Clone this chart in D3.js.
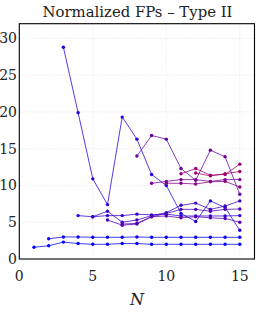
<!DOCTYPE html>
<html><head><meta charset="utf-8">
<script src="https://cdn.jsdelivr.net/npm/d3@7"></script>
<style>html,body{margin:0;padding:0;background:#fff;}svg{display:block;}</style>
</head><body>
<script>
const title = "Normalized FPs – Type II";
const xLabel = "N";
const xTicks = [0, 5, 10, 15];
const yTicks = [0, 5, 10, 15, 20, 25, 30];
// each series starts at N = its start value, one value per N up to 15
const starts = [1, 2, 3, 4, 5, 6, 7, 8, 9, 10, 11, 12];
const s1 = [1.6, 1.8, 2.3, 2.1, 2.0, 2.0, 2.1, 2.1, 2.0, 2.0, 2.0, 2.0, 2.0, 2.0, 2.0];
const s2 = [2.75, 3.0, 3.0, 2.95, 2.95, 2.95, 3.0, 2.95, 2.95, 2.95, 2.95, 2.95, 2.95, 2.95];
const s3 = [28.8, 19.9, 10.9, 7.4, 19.3, 16.3, 11.5, 10.0, 6.2, 5.1, 7.9, 7.0, 3.9];
const s4 = [5.9, 5.75, 5.9, 5.9, 6.1, 6.0, 6.1, 5.85, 5.85, 5.85, 5.85, 5.9];
const s5 = [5.75, 6.5, 5.0, 5.3, 5.9, 6.3, 7.3, 7.6, 6.75, 7.2, 7.9];
const s6 = [5.3, 4.6, 4.75, 5.75, 6.2, 6.75, 6.75, 6.5, 6.75, 6.8];
const s7 = [4.75, 4.85, 5.75, 5.85, 5.6, 5.75, 5.6, 5.5, 5.0];
const s8 = [14.0, 16.8, 16.3, 12.3, 10.7, 14.8, 13.9, 8.8];
const s9 = [10.3, 10.55, 10.8, 10.8, 10.55, 10.8, 10.8];
const s10 = [10.3, 10.3, 10.2, 10.5, 10.55, 9.8];
const s11 = [11.6, 12.3, 11.4, 11.5, 12.9];
const s12 = [11.7, 11.3, 11.6, 11.9];
const seriesValues = [s1, s2, s3, s4, s5, s6, s7, s8, s9, s10, s11, s12];

const W = 256, H = 316;
const m = {left: 19.3, right: 1.5, top: 23.7, bottom: 57};
const svg = d3.select("body").append("svg").attr("width", W).attr("height", H);
const x = d3.scaleLinear().domain([0, 16]).range([m.left, W - m.right]);
const y = d3.scaleLinear().domain([0, 32]).range([H - m.bottom, m.top]);
const serif = "DejaVu Serif";

// grid
const g = svg.append("g");
g.selectAll("line.gx").data(xTicks.filter(d => d > 0)).join("line")
  .attr("x1", d => x(d)).attr("x2", d => x(d)).attr("y1", y(0)).attr("y2", y(32))
  .attr("stroke", "#e2e2e2").attr("stroke-width", 0.6).attr("stroke-dasharray", "1.5,1.5");
g.selectAll("line.gy").data(yTicks.filter(d => d > 0)).join("line")
  .attr("x1", x(0)).attr("x2", x(16)).attr("y1", d => y(d)).attr("y2", d => y(d))
  .attr("stroke", "#e2e2e2").attr("stroke-width", 0.6).attr("stroke-dasharray", "1.5,1.5");

const color = i => d3.interpolateRgb("#0000ff", "#a3006a")(i / (seriesValues.length - 1));
const line = d3.line().x(d => x(d[0])).y(d => y(d[1]));

seriesValues.forEach((vals, i) => {
  const pts = vals.map((v, j) => [starts[i] + j, v]);
  const c = color(i);
  svg.append("path").datum(pts).attr("d", line).attr("fill", "none")
    .attr("stroke", c).attr("stroke-width", 0.9).attr("stroke-opacity", 0.85);
  svg.append("g").selectAll("circle").data(pts).join("circle")
    .attr("cx", d => x(d[0])).attr("cy", d => y(d[1])).attr("r", 1.7).attr("fill", c);
});

// frame
svg.append("rect").attr("x", x(0)).attr("y", y(32)).attr("width", x(16) - x(0)).attr("height", y(0) - y(32))
  .attr("fill", "none").attr("stroke", "#000").attr("stroke-width", 1.1);

// tick labels
svg.append("g").selectAll("text").data(yTicks).join("text")
  .attr("x", 17).attr("y", d => y(d) + 5).attr("text-anchor", "end")
  .attr("font-family", serif).attr("font-size", 14).attr("fill", "#222").text(d => d);
svg.append("g").selectAll("text").data(xTicks).join("text")
  .attr("x", d => x(d)).attr("y", 281).attr("text-anchor", "middle")
  .attr("font-family", serif).attr("font-size", 14).attr("fill", "#222").text(d => d);

svg.append("text").attr("x", 137).attr("y", 305).attr("text-anchor", "middle")
  .attr("font-family", serif).attr("font-style", "italic").attr("font-size", 16).attr("fill", "#222").text(xLabel);

const t = svg.append("text").attr("x", 137.5).attr("y", 16.5).attr("text-anchor", "middle")
  .attr("font-family", serif).attr("font-size", 14).attr("fill", "#222").text(title);
const tw = t.node().getComputedTextLength();
if (tw > 0) t.attr("font-size", 14 * 190 / tw);
</script>
</body></html>
